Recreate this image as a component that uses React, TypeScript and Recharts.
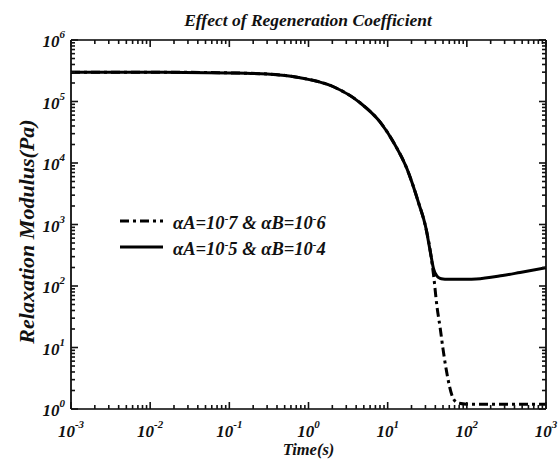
import { Legend, Line, LineChart, XAxis, YAxis } from 'recharts';

const times = [0.001, 0.01, 0.1, 0.3, 0.78, 2, 4.5, 8, 12, 17.5, 25, 30, 35, 38, 42, 46, 50, 56, 66, 77, 100, 131, 283, 470, 1000];
const modulusFast = [3.0e5, 3.0e5, 2.92e5, 2.8e5, 2.44e5, 1.77e5, 9.5e4, 4.65e4, 2.12e4, 8.1e3, 2.1e3, 950, 330, 190, 145, 133, 130, 129, 129, 129, 129, 130, 148, 166, 198];
const modulusSlow = [3.0e5, 3.0e5, 2.92e5, 2.8e5, 2.44e5, 1.77e5, 9.5e4, 4.65e4, 2.12e4, 8.1e3, 2.1e3, 950, 330, 150, 46, 21, 9.5, 3.8, 1.57, 1.25, 1.2, 1.2, 1.2, 1.2, 1.2];

const xDecades = [1e-3, 1e-2, 1e-1, 1, 1e1, 1e2, 1e3];
const yDecades = [1, 1e1, 1e2, 1e3, 1e4, 1e5, 1e6];

const legendExponents = [
  ['7', '6'],
  ['5', '4'],
];

const FONT = 'Liberation Serif';
const INK = '#111';
const textStyle = { fontFamily: FONT, fontWeight: 700, fontStyle: 'italic' as const };

const data = times.map((t, i) => ({ t, slow: modulusSlow[i], fast: modulusFast[i] }));

function withMinors(decades: number[]) {
  const out: number[] = [];
  decades.forEach((d, i) => {
    out.push(d);
    if (i < decades.length - 1) for (let k = 2; k <= 9; k++) out.push(d * k);
  });
  return out;
}

const xTicks = withMinors(xDecades);
const yTicks = withMinors(yDecades);

function decadeOf(v: number) {
  const l = Math.log10(v);
  const r = Math.round(l);
  return Math.abs(l - r) < 1e-6 ? r : null;
}

function PowerLabel({ x, y, exp, anchor }: { x: number; y: number; exp: number; anchor: 'middle' | 'end' }) {
  return (
    <text x={x} y={y} textAnchor={anchor} fontSize={17} fill={INK} style={textStyle}>
      <tspan>10</tspan>
      <tspan dy={-9} fontSize={11}>{exp}</tspan>
    </text>
  );
}

// inward tick marks (long at decades, short between) plus decade labels
function makeTick(side: 'bottom' | 'top' | 'left' | 'right', labelled: boolean) {
  return function Tick(props: any) {
    const x = Number(props.x);
    const y = Number(props.y);
    const exp = decadeOf(props.payload.value);
    const len = exp !== null ? 7 : 4;
    let d = '';
    if (side === 'bottom') d = `M${x},${y}V${y - len}`;
    else if (side === 'top') d = `M${x},${y}V${y + len}`;
    else if (side === 'left') d = `M${x},${y}H${x + len}`;
    else d = `M${x},${y}H${x - len}`;
    return (
      <g>
        <path d={d} stroke="#111" strokeWidth={1.6} fill="none" style={{ stroke: '#111' }} />
        {labelled && exp !== null && side === 'bottom' && <PowerLabel x={x} y={y + 28} exp={exp} anchor="middle" />}
        {labelled && exp !== null && side === 'left' && <PowerLabel x={x - 6} y={y + 7} exp={exp} anchor="end" />}
      </g>
    );
  };
}

const BottomTick = makeTick('bottom', true);
const TopTick = makeTick('top', false);
const LeftTick = makeTick('left', true);
const RightTick = makeTick('right', false);

function LegendText({ x, y, a, b }: { x: number; y: number; a: string; b: string }) {
  return (
    <text x={x} y={y} fontSize={18.5} fill={INK} style={textStyle}>
      <tspan>αA=10</tspan>
      <tspan dy={-7} fontSize={11}>-</tspan>
      <tspan dy={7}>{a} &amp; αB=10</tspan>
      <tspan dy={-7} fontSize={11}>-</tspan>
      <tspan dy={7}>{b}</tspan>
    </text>
  );
}

function LegendBox() {
  return (
    <svg width={250} height={62} style={{ display: 'block' }}>
      <line x1={2} x2={45} y1={17} y2={17} stroke="#000" strokeWidth={3} strokeDasharray="9 4 3 4" />
      <LegendText x={55} y={25} a={legendExponents[0][0]} b={legendExponents[0][1]} />
      <line x1={2} x2={45} y1={43} y2={43} stroke="#000" strokeWidth={3} />
      <LegendText x={55} y={51} a={legendExponents[1][0]} b={legendExponents[1][1]} />
    </svg>
  );
}

const frame = { stroke: '#000', strokeWidth: 1.7 };

export default function App() {
  return (
    <div style={{ position: 'absolute', left: 0, top: 0, width: 559, height: 460, background: '#fff' }}>
      <LineChart width={559} height={460} data={data} margin={{ top: 39, right: 12, bottom: 0, left: 0 }}>
        <XAxis
          dataKey="t"
          type="number"
          scale="log"
          domain={[1e-3, 1e3]}
          allowDataOverflow
          ticks={xTicks}
          interval={0}
          tickSize={0}
          tickMargin={0}
          tickLine={false}
          height={51}
          axisLine={frame}
          tick={BottomTick}
          label={(p: any) => {
            const vb = p.viewBox;
            return (
              <text x={vb.x + vb.width / 2} y={455} textAnchor="middle" fontSize={16.5} fill={INK} style={textStyle}>
                Time(s)
              </text>
            );
          }}
        />
        <XAxis
          xAxisId="top"
          orientation="top"
          dataKey="t"
          type="number"
          scale="log"
          domain={[1e-3, 1e3]}
          allowDataOverflow
          ticks={xTicks}
          interval={0}
          tickSize={0}
          tickMargin={0}
          tickLine={false}
          height={1}
          axisLine={frame}
          tick={TopTick}
        />
        <YAxis
          type="number"
          scale="log"
          domain={[1, 1e6]}
          allowDataOverflow
          ticks={yTicks}
          interval={0}
          tickSize={0}
          tickMargin={0}
          tickLine={false}
          width={71}
          axisLine={frame}
          tick={LeftTick}
          label={(p: any) => {
            const vb = p.viewBox;
            const cy = vb.y + vb.height / 2 + 7;
            return (
              <text x={34} y={cy} transform={`rotate(-90 34 ${cy})`} textAnchor="middle" fontSize={22} fill={INK} style={textStyle}>
                Relaxation Modulus(Pa)
              </text>
            );
          }}
        />
        <YAxis
          yAxisId="right"
          orientation="right"
          type="number"
          scale="log"
          domain={[1, 1e6]}
          allowDataOverflow
          ticks={yTicks}
          interval={0}
          tickSize={0}
          tickMargin={0}
          tickLine={false}
          width={1}
          axisLine={frame}
          tick={RightTick}
        />
        <Legend
          layout="horizontal"
          verticalAlign="middle"
          align="center"
          wrapperStyle={{ position: 'absolute', left: 118, top: 204, width: 250, height: 62 }}
          content={() => <LegendBox />}
        />
        <Line dataKey="slow" type="monotone" stroke="#000" strokeWidth={3} strokeDasharray="9 4 3 4" dot={false} isAnimationActive={false} />
        <Line dataKey="fast" type="monotone" stroke="#000" strokeWidth={3} dot={false} isAnimationActive={false} />
      </LineChart>
      <svg width={559} height={40} style={{ position: 'absolute', left: 0, top: 0, pointerEvents: 'none' }}>
        <text x={308} y={26} textAnchor="middle" fontSize={17.5} fill={INK} style={textStyle}>
          Effect of Regeneration Coefficient
        </text>
      </svg>
    </div>
  );
}
